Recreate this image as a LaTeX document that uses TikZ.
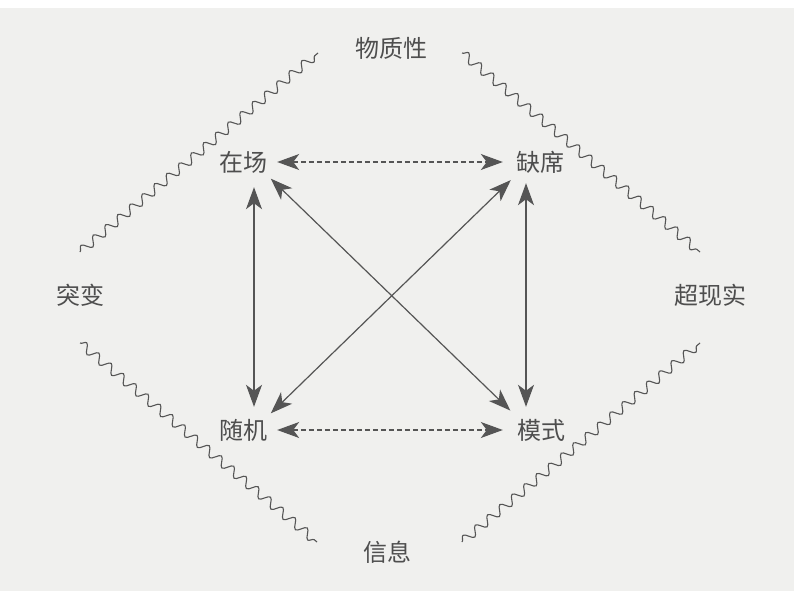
\documentclass[tikz,border=0pt]{standalone}
\usepackage{fontspec}
\newfontfamily\cjk{Noto Sans CJK SC}
\usetikzlibrary{arrows.meta,decorations.pathmorphing}
\definecolor{paper}{RGB}{240,240,238}
\definecolor{ink}{RGB}{78,78,78}
\definecolor{lineclr}{RGB}{85,85,85}
\tikzset{
  lbl/.style={font=\cjk\fontsize{24pt}{26pt}\selectfont, text=ink, inner sep=0pt,
              minimum width=48pt, minimum height=26pt},
  biarrow/.style={{Stealth[length=22pt,width=16pt,inset=6pt]}-{Stealth[length=22pt,width=16pt,inset=6pt]}, draw=lineclr, line width=1.2pt},
  dasharrow/.style={biarrow, dash pattern=on 5pt off 3pt},
  wavy/.style={draw=lineclr, line width=1.1pt, decorate,
               decoration={snake, segment length=16pt, amplitude=4.5pt}}
}
\begin{document}
\begin{tikzpicture}[x=1pt,y=-1pt]
  \fill[paper] (0,0) rectangle (794,591);
  \fill[white] (0,0) rectangle (794,8);
  \useasboundingbox (0,0) rectangle (794,591);

  % labels
  \node[lbl] (wz)  at (391,48)  {物质性};
  \node[lbl] (tb)  at (80,295)  {突变};
  \node[lbl] (cxs) at (710,295) {超现实};
  \node[lbl] (xx)  at (387,552) {信息};
  \node[lbl] (zc)  at (243,162) {在场};
  \node[lbl] (qx)  at (540,162) {缺席};
  \node[lbl] (sj)  at (243,430) {随机};
  \node[lbl] (ms)  at (541,430) {模式};

  % wavy boundary
  \coordinate (wa1) at (80,252);  \coordinate (wa2) at (318,53);
  \coordinate (wb1) at (462,53);  \coordinate (wb2) at (700,252);
  \coordinate (wc1) at (80,343);  \coordinate (wc2) at (317,542);
  \coordinate (wd1) at (462,542); \coordinate (wd2) at (700,343);
  \path[wavy] (wa1) -- (wa2);
  \path[wavy] (wb1) -- (wb2);
  \path[wavy] (wc1) -- (wc2);
  \path[wavy] (wd1) -- (wd2);

  % dashed horizontals
  \draw[dasharrow, shorten <=10pt, shorten >=13pt] (zc.east) -- (qx.west);
  \draw[dasharrow, shorten <=10pt, shorten >=14pt] (sj.east) -- (ms.west);

  % verticals
  \draw[biarrow, shorten <=12pt, shorten >=10pt] ([xshift=11pt]zc.south) -- ([xshift=11pt]sj.north);
  \draw[biarrow, shorten <=8pt, shorten >=10pt] ([xshift=-14pt]qx.south) -- ([xshift=-15pt]ms.north);

  % diagonals
  \draw[biarrow, shorten <=5pt, shorten >=9pt] (zc.south east) -- (ms.north west);
  \draw[biarrow, shorten <=7pt, shorten >=5pt] (qx.south west) -- (sj.north east);
\end{tikzpicture}
\end{document}
